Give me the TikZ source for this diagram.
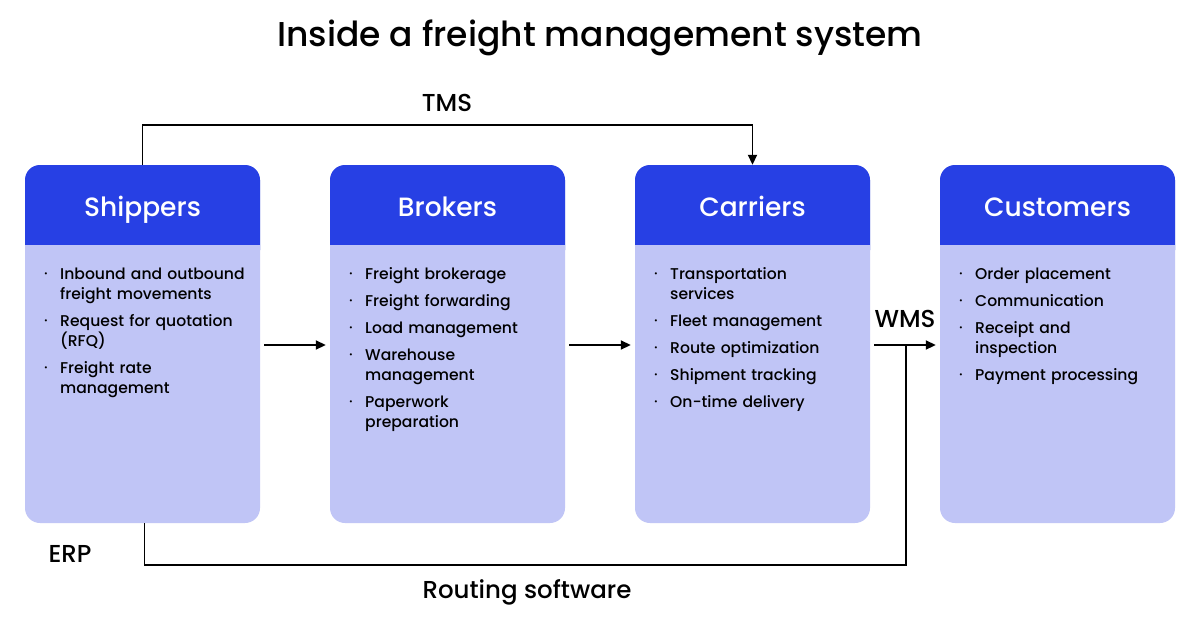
\documentclass[tikz,border=0pt]{standalone}
\usepackage{fontspec}
\setmainfont{Poppins Medium}
\usetikzlibrary{arrows.meta,calc}
\definecolor{hdr}{HTML}{2740E4}
\definecolor{bdy}{HTML}{C0C5F6}
\newcommand\itm[1]{\par\hangindent=16pt\hangafter=1\noindent\makebox[16pt][l]{\raisebox{2.5pt}{\fontsize{8}{8}\selectfont•}}#1\par\vspace{7pt}}
\tikzset{
  x=1pt,y=-1pt,
  boxbody/.style={fill=bdy,rounded corners=15pt,minimum width=235pt,minimum height=358pt,inner sep=0pt,draw=none},
  hdrtext/.style={text=white,font=\fontsize{26.5}{30}\selectfont,anchor=base},
  listtext/.style={anchor=north west,inner sep=0pt,text width=215pt,font=\fontsize{15.6}{20}\selectfont\raggedright},
  conn/.style={line width=1.8pt,draw=black},
  arr/.style={conn,-{Triangle[length=10pt,width=9pt]}},
  lbl/.style={font=\fontsize{24.5}{28}\selectfont,inner sep=0pt}
}
\newcommand\mkbox[4]{%
  \node[boxbody] (#1) at (#2+117.5,344) {};
  \fill[hdr,rounded corners=15pt] (#2,165) rectangle (#2+235,265);
  \fill[bdy] (#2,245) rectangle (#2+235,280);
  \node[hdrtext] (#1h) at (#2+117.5,216) {#3};
  \node[listtext] (#1l) at (#2+19,259) {#4};
}
\begin{document}
\begin{tikzpicture}
\useasboundingbox (0,0) rectangle (1200,630);
\fill[white] (0,0) rectangle (1200,630);
\node[font=\fontsize{34.5}{40}\selectfont,inner sep=0pt] (title) at (600,38) {Inside a freight management system};

\mkbox{ship}{25}{Shippers}{\itm{Inbound and outbound\newline freight movements}\itm{Request for quotation\newline (RFQ)}\itm{Freight rate\newline management}}
\mkbox{brok}{330}{Brokers}{\itm{Freight brokerage}\itm{Freight forwarding}\itm{Load management}\itm{Warehouse\newline management}\itm{Paperwork\newline preparation}}
\mkbox{carr}{635}{Carriers}{\itm{Transportation\newline services}\itm{Fleet management}\itm{Route optimization}\itm{Shipment tracking}\itm{On-time delivery}}
\mkbox{cust}{940}{Customers}{\itm{Order placement}\itm{Communication}\itm{Receipt and\newline inspection}\itm{Payment processing}}

% horizontal arrows
\draw[arr] ($(ship.east)+(4,1)$) -- ($(brok.west)+(-4,1)$);
\draw[arr] ($(brok.east)+(4,1)$) -- ($(carr.west)+(-4,1)$);
\draw[arr] ($(carr.east)+(4,1)$) -- ($(cust.west)+(-4,1)$);

% TMS
\coordinate (tmsL) at ($(ship.north)+(0,-40)$);
\draw[arr] (ship.north) -- (tmsL) -| (carr.north);
\node[lbl] (tms) at (447,103) {TMS};

% ERP / routing
\coordinate (join) at (906,345);
\coordinate (erpL) at ($(ship.south)+(2,42)$);
\draw[conn] ($(ship.south)+(2,0)$) -- (erpL) -| (join);
\node[lbl] (erp) at (70,554) {ERP};
\node[lbl] (rout) at (527,592) {Routing software};
\node[lbl] (wms) at (905,319) {WMS};
\end{tikzpicture}
\end{document}
